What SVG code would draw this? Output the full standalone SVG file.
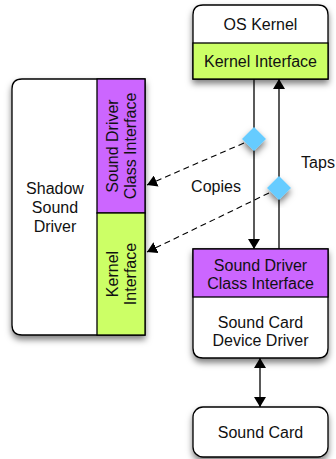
<svg xmlns="http://www.w3.org/2000/svg" width="336" height="459" viewBox="0 0 336 459">
<style>
.t{font-family:"Liberation Sans",Arial,sans-serif;font-size:16px;fill:#111;text-anchor:middle;dominant-baseline:central}
.b{stroke:#000;stroke-width:1.3}
.ln{stroke:#000;stroke-width:1.3;fill:none}
.d{stroke:#000;stroke-width:1.1;fill:none;stroke-dasharray:6,4}
</style>
<defs>
<filter id="sh" x="-20%" y="-20%" width="150%" height="150%">
<feDropShadow dx="0" dy="4" stdDeviation="3" flood-color="#000" flood-opacity="0.5"/>
</filter>
<marker id="ah" viewBox="0 0 10 12" refX="10" refY="6" markerWidth="10" markerHeight="12" markerUnits="userSpaceOnUse" orient="auto">
<path d="M0,0 L10,6 L0,12 Z" fill="#000"/>
</marker>
<marker id="ahs" viewBox="0 0 10 12" refX="10" refY="6" markerWidth="10" markerHeight="12" markerUnits="userSpaceOnUse" orient="auto-start-reverse">
<path d="M0,0 L10,6 L0,12 Z" fill="#000"/>
</marker>
</defs>
<g id="connectors">
<line class="ln" x1="254" y1="79" x2="254" y2="249" marker-end="url(#ah)"/>
<line class="ln" x1="279" y1="249" x2="279" y2="79" marker-end="url(#ah)"/>
<line class="ln" x1="260" y1="358" x2="260" y2="407" marker-start="url(#ahs)" marker-end="url(#ah)"/>
<line class="d" x1="244" y1="143" x2="147" y2="185" marker-end="url(#ah)"/>
<line class="d" x1="269" y1="193" x2="147" y2="252" marker-end="url(#ah)"/>
<text class="t" x="216" y="186">Copies</text>
<text class="t" x="318" y="162">Taps</text>
</g>
<g id="os-kernel">
<path d="M193,79 V15 Q193,5 203,5 H318 Q328,5 328,15 V79 Z" fill="#fff" class="b" filter="url(#sh)"/>
<rect x="193" y="43" width="135" height="36" fill="#ccff66" class="b"/>
<text class="t" x="260.5" y="24">OS Kernel</text>
<text class="t" x="260.5" y="61">Kernel Interface</text>
</g>
<g id="diamond-copies">
<path d="M254,127 L266,139 L254,151 L242,139 Z" fill="#66ccff" filter="url(#sh)"/>
</g>
<g id="diamond-taps">
<path d="M279,176 L291,188 L279,200 L267,188 Z" fill="#66ccff" filter="url(#sh)"/>
</g>
<g id="sound-card-driver">
<path d="M193,249 H328 V348 Q328,358 318,358 H203 Q193,358 193,348 Z" fill="#fff" class="b" filter="url(#sh)"/>
<rect x="193" y="249" width="135" height="48" fill="#cc66ff" class="b"/>
<text class="t" x="260.5" y="265">Sound Driver</text>
<text class="t" x="260.5" y="283">Class Interface</text>
<text class="t" x="260.5" y="322">Sound Card</text>
<text class="t" x="260.5" y="340">Device Driver</text>
</g>
<g id="sound-card">
<rect x="193" y="407" width="135" height="50" rx="10" fill="#fff" class="b" filter="url(#sh)"/>
<text class="t" x="260.5" y="432">Sound Card</text>
</g>
<g id="shadow-driver">
<path d="M22,79 H145 V335 H22 Q12,335 12,325 V89 Q12,79 22,79 Z" fill="#fff" class="b" filter="url(#sh)"/>
<rect x="97" y="79" width="48" height="134" fill="#cc66ff" class="b"/>
<rect x="97" y="213" width="48" height="122" fill="#ccff66" class="b"/>
<text class="t" x="55" y="188">Shadow</text>
<text class="t" x="55" y="207">Sound</text>
<text class="t" x="55" y="226">Driver</text>
<text class="t" transform="translate(112,146) rotate(-90)">Sound Driver</text>
<text class="t" transform="translate(130,146) rotate(-90)">Class Interface</text>
<text class="t" transform="translate(112,274) rotate(-90)">Kernel</text>
<text class="t" transform="translate(130,274) rotate(-90)">Interface</text>
</g>
</svg>
